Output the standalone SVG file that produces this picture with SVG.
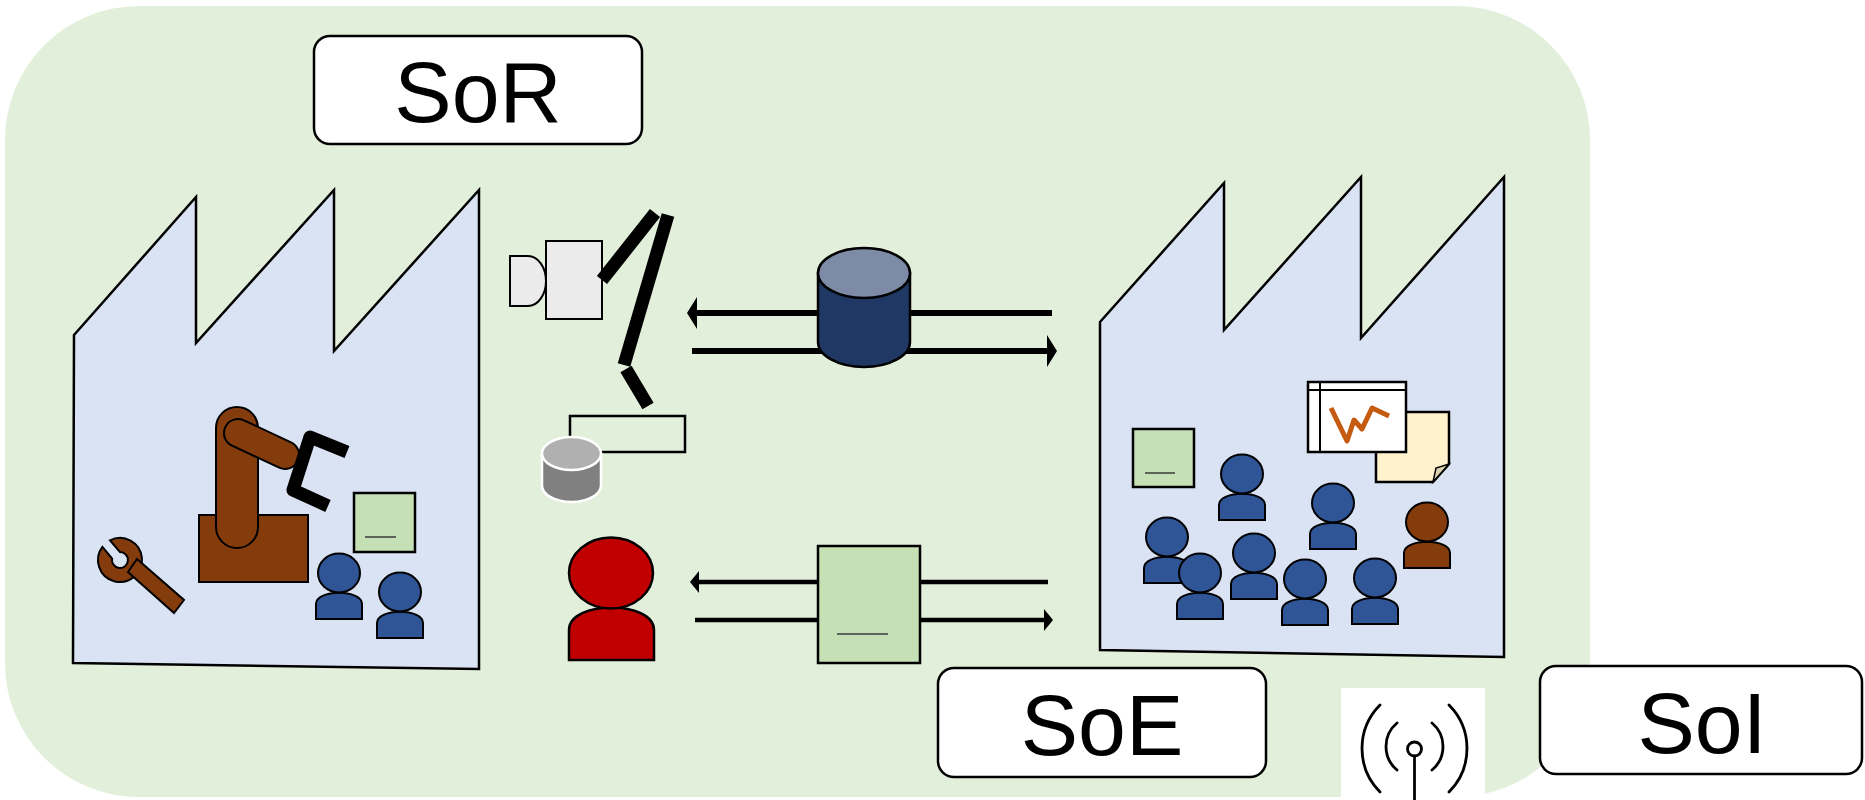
<svg xmlns="http://www.w3.org/2000/svg" xmlns:xlink="http://www.w3.org/1999/xlink" width="1865" height="800" viewBox="0 0 1865 800">
  <style>
    .zone { fill: #E2EFDA; }
    .factory { fill: #DAE3F3; stroke: #000; stroke-width: 2.5; stroke-linejoin: miter; }
    .label-box { fill: #fff; stroke: #000; stroke-width: 2.5; }
    .label-text { font-family: "Liberation Sans", Arial, sans-serif; font-size: 86px; fill: #000; text-anchor: middle; }
    .blue { fill: #2F5597; stroke: #000; stroke-width: 2; }
    .brown { fill: #843C0C; stroke: #000; stroke-width: 2; }
    .red { fill: #C00000; stroke: #000; stroke-width: 2.5; }
    .doc { fill: #C5E0B4; stroke: #000; stroke-width: 2.5; }
    .doc-line { stroke: #3A3A3A; stroke-width: 1.5; }
    .bar { fill: none; stroke: #000; stroke-linecap: butt; }
    .flow-thick { stroke: #000; stroke-width: 6; fill: none; }
    .flow-thin { stroke: #000; stroke-width: 4.5; fill: none; }
    .ant { fill: none; stroke: #000; stroke-width: 2.8; stroke-linecap: round; }
  </style>
  <defs>
    <!-- generic person: head + shoulders, fill comes from the <use> -->
    <g id="person">
      <path d="M-23,46 V31 C-23,16 23,16 23,31 V46 Z"/>
      <ellipse cx="0" cy="0" rx="21" ry="19.5"/>
    </g>
    <marker id="head-big" viewBox="0 0 10 32" refX="5" refY="16" markerWidth="10" markerHeight="32" markerUnits="userSpaceOnUse" orient="auto">
      <path d="M0,0 L10,16 L0,32 Z" fill="#000"/>
    </marker>
    <marker id="head-small" viewBox="0 0 9 22" refX="4" refY="11" markerWidth="9" markerHeight="22" markerUnits="userSpaceOnUse" orient="auto">
      <path d="M0,0 L9,11 L0,22 Z" fill="#000"/>
    </marker>
  </defs>

  <!-- enterprise zone -->
  <rect id="zone" class="zone" x="5" y="6" width="1585" height="791" rx="134" ry="134"/>

  <!-- shop floor (left factory) -->
  <g id="factory-left">
    <polygon class="factory" points="74,335 196,197 196,343 334,190 334,351 479,190 479,669 73,663"/>
    <g id="robot">
      <rect class="brown" x="199" y="515" width="109" height="67"/>
      <rect class="brown" x="216" y="407" width="42" height="141" rx="21" ry="21"/>
      <rect class="brown" x="-14" y="-14" width="80" height="28" rx="14" ry="14" transform="translate(238,433) rotate(25)"/>
      <polyline class="bar" stroke-width="13" stroke-linejoin="round" points="347,452 310,437 293,490 328,506"/>
    </g>
    <g id="wrench">
      <path class="brown" d="M110,540.4 A22,22 0 1 1 102.4,546.8 L112.1,558.5 A8,8 0 1 0 119.9,552 Z"/>
      <polygon class="brown" points="137,559 184,600 174,613 128,572"/>
    </g>
    <g id="doc-left">
      <rect class="doc" x="354" y="493" width="61" height="59"/>
      <line class="doc-line" x1="365" y1="537" x2="396" y2="537"/>
    </g>
    <g id="workers-left">
      <use xlink:href="#person" href="#person" class="blue" x="339" y="573"/>
      <use xlink:href="#person" href="#person" class="blue" x="400" y="592"/>
    </g>
  </g>

  <!-- camera on articulated arm -->
  <g id="camera-arm">
    <path fill="#EBEBEB" stroke="#000" stroke-width="2" d="M510,256 H528 A18,25 0 0 1 528,306 H510 Z"/>
    <rect fill="#EBEBEB" stroke="#000" stroke-width="2" x="546" y="241" width="56" height="78"/>
    <line class="bar" stroke-width="13" x1="602" y1="280" x2="655" y2="213"/>
    <line class="bar" stroke-width="13" x1="668" y1="215" x2="624" y2="365"/>
    <line class="bar" stroke-width="13" x1="626" y1="369" x2="648" y2="406"/>
    <rect fill="none" stroke="#000" stroke-width="2.5" x="570" y="416" width="115" height="36"/>
  </g>
  <g id="store-small">
    <path fill="#808080" stroke="#fff" stroke-width="2.5" d="M542,453.5 V485.5 A29.5,16.5 0 0 0 601,485.5 V453.5 Z"/>
    <ellipse fill="#B0B0B0" stroke="#fff" stroke-width="2.5" cx="571.5" cy="453.5" rx="29.5" ry="16.5"/>
  </g>

  <!-- operator -->
  <g id="operator">
    <path class="red" d="M569,660 V630 C569,600 654,600 654,630 V660 Z"/>
    <ellipse class="red" cx="611" cy="573" rx="42" ry="35.5"/>
  </g>

  <!-- data and document flows -->
  <g id="connectors">
    <line class="flow-thick" x1="1052" y1="313" x2="692" y2="313" marker-end="url(#head-big)"/>
    <line class="flow-thick" x1="692" y1="351" x2="1052" y2="351" marker-end="url(#head-big)"/>
    <line class="flow-thin" x1="1048" y1="582" x2="695" y2="582" marker-end="url(#head-small)"/>
    <line class="flow-thin" x1="695" y1="620" x2="1048" y2="620" marker-end="url(#head-small)"/>
  </g>

  <g id="database">
    <path fill="#203864" stroke="#000" stroke-width="2.5" d="M818,273 V342 A46,25 0 0 0 910,342 V273 Z"/>
    <ellipse fill="#7D8BA6" stroke="#000" stroke-width="2.5" cx="864" cy="273" rx="46" ry="25"/>
  </g>
  <g id="document">
    <rect class="doc" x="818" y="546" width="102" height="117"/>
    <line class="doc-line" x1="837" y1="634" x2="888" y2="634"/>
  </g>

  <!-- office (right factory) -->
  <g id="factory-right">
    <polygon class="factory" points="1100,322 1224,183 1224,330 1361,177 1361,338 1504,177 1504,657 1100,650"/>
    <g id="doc-right">
      <rect class="doc" x="1133" y="429" width="61" height="58"/>
      <line class="doc-line" x1="1145" y1="473" x2="1175" y2="473"/>
    </g>
    <g id="note">
      <path fill="#FFF2CC" stroke="#000" stroke-width="2.5" d="M1376,412 H1449 V464 L1433,482 H1376 Z"/>
      <path fill="#DDD2B0" stroke="#000" stroke-width="1.5" d="M1449,464 L1433,482 L1436,468 Z"/>
    </g>
    <g id="dashboard">
      <rect fill="#fff" stroke="#000" stroke-width="2.5" x="1308" y="382" width="98" height="70"/>
      <line stroke="#000" stroke-width="2" x1="1308" y1="390" x2="1406" y2="390"/>
      <line stroke="#000" stroke-width="2" x1="1320" y1="382" x2="1320" y2="452"/>
      <polyline fill="none" stroke="#C55A11" stroke-width="5" stroke-linejoin="round" points="1331,408 1347,441 1354,420 1362,429 1372,408 1389,416"/>
    </g>
    <g id="workers-right">
      <use xlink:href="#person" href="#person" class="blue" x="1242" y="474"/>
      <use xlink:href="#person" href="#person" class="blue" x="1333" y="503"/>
      <use xlink:href="#person" href="#person" class="blue" x="1167" y="537"/>
      <use xlink:href="#person" href="#person" class="blue" x="1254" y="553"/>
      <use xlink:href="#person" href="#person" class="blue" x="1200" y="573"/>
      <use xlink:href="#person" href="#person" class="blue" x="1305" y="579"/>
      <use xlink:href="#person" href="#person" class="blue" x="1375" y="578"/>
      <use xlink:href="#person" href="#person" class="brown" x="1427" y="522"/>
    </g>
  </g>

  <!-- system labels -->
  <g id="label-sor">
    <rect class="label-box" x="314" y="36" width="328" height="108" rx="16" ry="16"/>
    <text class="label-text" x="478" y="122">SoR</text>
  </g>
  <g id="label-soe">
    <rect class="label-box" x="938" y="668" width="328" height="109" rx="16" ry="16"/>
    <text class="label-text" x="1102" y="755">SoE</text>
  </g>
  <g id="label-soi">
    <rect class="label-box" x="1540" y="666" width="322" height="108" rx="16" ry="16"/>
    <text class="label-text" x="1702" y="753">SoI</text>
  </g>

  <!-- wireless antenna -->
  <g id="antenna">
    <rect fill="#fff" x="1341" y="688" width="144" height="112"/>
    <circle class="ant" cx="1414.5" cy="749" r="7"/>
    <line class="ant" x1="1414.5" y1="756" x2="1414.5" y2="800"/>
    <path class="ant" d="M1397,723 A30.6,30.6 0 0 0 1397,770"/>
    <path class="ant" d="M1432,723 A30.6,30.6 0 0 1 1432,770"/>
    <path class="ant" d="M1380,705 A61.6,61.6 0 0 0 1380,792"/>
    <path class="ant" d="M1449,705 A61.6,61.6 0 0 1 1449,792"/>
  </g>
</svg>
